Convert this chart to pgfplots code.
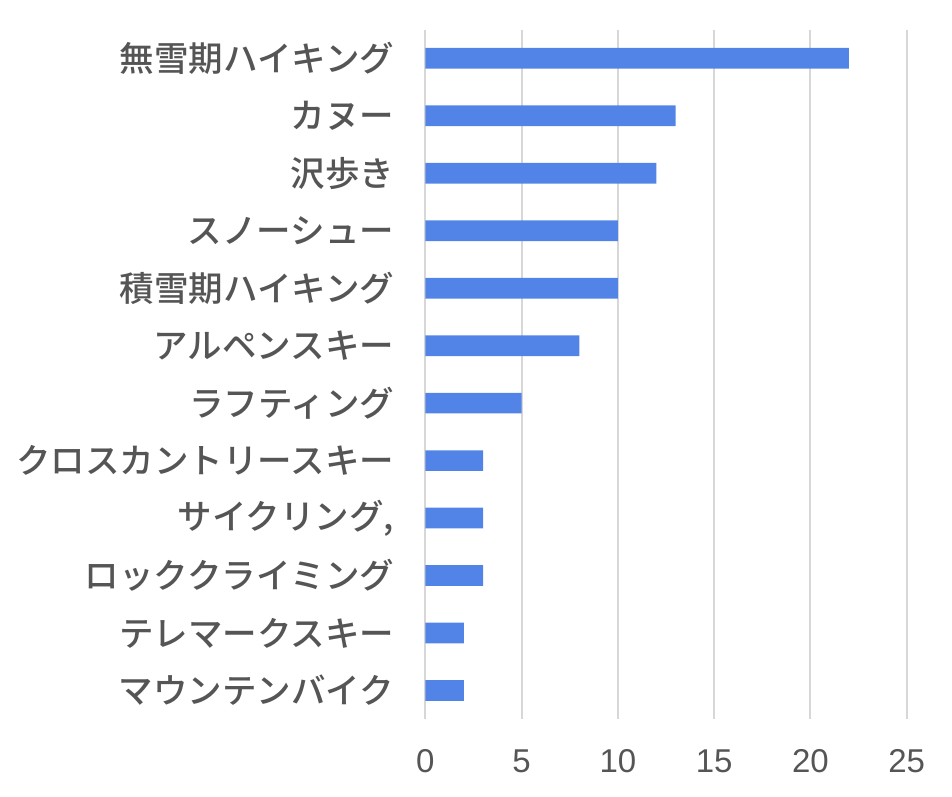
\documentclass[border=0pt]{standalone}
\usepackage{fontspec}
\setmainfont{Liberation Sans}
\newfontfamily\jp{Noto Sans CJK JP}[UprightFont={* Medium}]
\usepackage{pgfplots}
\pgfplotsset{compat=1.18}
\definecolor{barblue}{RGB}{82,132,232}
\definecolor{txtgray}{RGB}{85,85,85}
\definecolor{gridgray}{RGB}{215,215,215}
\begin{document}
\begin{tikzpicture}
\path[use as bounding box] (0,0) rectangle (952pt,796pt);
\begin{axis}[
  at={(425.3pt,76.8pt)}, anchor=south west,
  scale only axis,
  width=481.4pt, height=689.6pt,
  xbar, bar width=20.7pt,
  xmin=0, xmax=25,
  ymin=-0.5, ymax=11.5,
  y dir=reverse,
  xtick={0,5,10,15,20,25},
  ytick={0,...,11},
  yticklabels={無雪期ハイキング,カヌー,沢歩き,スノーシュー,積雪期ハイキング,アルペンスキー,ラフティング,クロスカントリースキー,{サイクリング,},ロッククライミング,テレマークスキー,マウンテンバイク},
  axis line style={draw=none},
  major tick length=0pt,
  xmajorgrids,
  major grid style={gridgray, line width=2pt},
  /pgf/number format/assume math mode=true,
  xticklabel style={font=\fontsize{33}{38}\selectfont, text=txtgray, inner sep=0pt, anchor=north, yshift=-30.5pt},
  yticklabel style={font=\jp\fontsize{34.5}{40}\selectfont, text=txtgray, inner sep=0pt, anchor=east, xshift=-31pt},
  clip=false,
]
\addplot[fill=barblue, draw=none] coordinates {
(22,0) (13,1) (12,2) (10,3) (10,4) (8,5) (5,6) (3,7) (3,8) (3,9) (2,10) (2,11)
};
\end{axis}
\end{tikzpicture}
\end{document}
